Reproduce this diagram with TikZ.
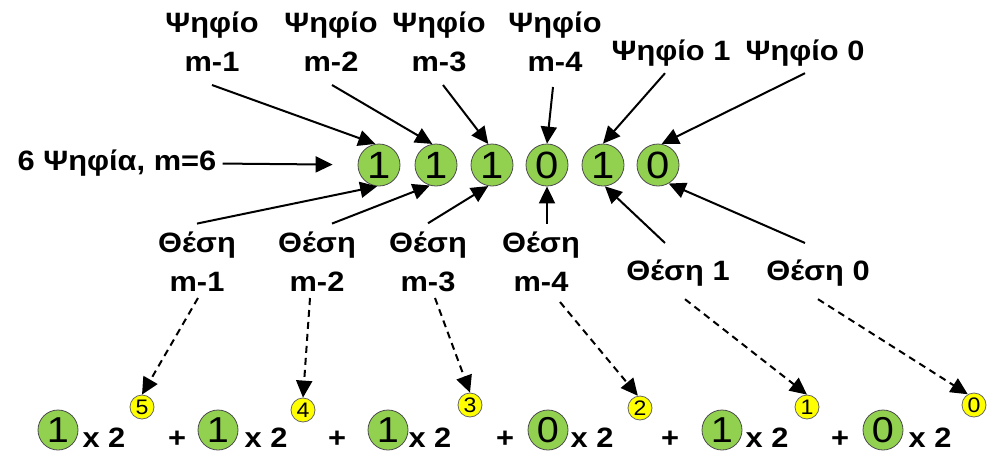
\documentclass[tikz,border=0pt]{standalone}
\usepackage{fontspec}
\setmainfont[FakeStretch=1.1]{Liberation Sans}
\usetikzlibrary{calc,arrows.meta}
\definecolor{bitgreen}{RGB}{146,208,80}
\definecolor{expyellow}{RGB}{255,255,0}

\begin{document}
\begin{tikzpicture}[x=.5pt,y=-.5pt]
\tikzstyle{bit}=[draw=black!70,fill=bitgreen,circle,inner sep=0pt,minimum size=21pt,font=\fontsize{19}{19}\selectfont]
\tikzstyle{coef}=[bit,minimum size=20pt,font=\fontsize{18}{18}\selectfont]
\tikzstyle{expo}=[draw=black!60,fill=expyellow,circle,inner sep=0pt,minimum size=12pt,font=\fontsize{10.5}{10.5}\selectfont]
\tikzstyle{lbl}=[inner sep=0pt,align=center,font=\bfseries\fontsize{14}{19.5}\selectfont]
\tikzstyle{arr}=[-{Triangle[length=8.5pt,width=8pt]},line width=1pt]
\tikzstyle{darr}=[arr,dash pattern=on 3.5pt off 2.5pt]

\useasboundingbox (0,0) rectangle (987,456);

% the six bits
\node[bit] (bit5) at (379,165) {1};
\node[bit] (bit4) at (436,165) {1};
\node[bit] (bit3) at (492,165) {1};
\node[bit] (bit2) at (547,165) {0};
\node[bit] (bit1) at (603,165) {1};
\node[bit] (bit0) at (658,165) {0};

% digit labels above
\node[lbl,anchor=south] (dlabel5) at (212,72) {Ψηφίο\\m-1};
\node[lbl,anchor=south] (dlabel4) at (331,72) {Ψηφίο\\m-2};
\node[lbl,anchor=south] (dlabel3) at (439,72) {Ψηφίο\\m-3};
\node[lbl,anchor=south] (dlabel2) at (555,72) {Ψηφίο\\m-4};
\node[lbl,anchor=base] (dlabel1) at (671,60) {Ψηφίο 1};
\node[lbl,anchor=base] (dlabel0) at (805,60) {Ψηφίο 0};

% number of digits
\node[lbl,anchor=base] (count) at (117,170) {6 Ψηφία, m=6};

% position labels below
\node[lbl,anchor=south] (plabel5) at (197,292) {Θέση\\m-1};
\node[lbl,anchor=south] (plabel4) at (317,292) {Θέση\\m-2};
\node[lbl,anchor=south] (plabel3) at (428,292) {Θέση\\m-3};
\node[lbl,anchor=south] (plabel2) at (541,292) {Θέση\\m-4};
\node[lbl,anchor=base] (plabel1) at (678,280) {Θέση 1};
\node[lbl,anchor=base] (plabel0) at (818,280) {Θέση 0};

% the sum of powers of two
\node[coef] (coef5) at (58,430) {1};
\node[lbl,anchor=base] (base5) at (104,447) {x 2};
\node[expo] (exp5) at (142,407) {5};
\node[lbl,anchor=base] (plus5) at (177,447) {+};
\node[coef] (coef4) at (218,430) {1};
\node[lbl,anchor=base] (base4) at (266,447) {x 2};
\node[expo] (exp4) at (303,410) {4};
\node[lbl,anchor=base] (plus4) at (337,447) {+};
\node[coef] (coef3) at (388,430) {1};
\node[lbl,anchor=base] (base3) at (430,447) {x 2};
\node[expo] (exp3) at (470,405) {3};
\node[lbl,anchor=base] (plus3) at (505,447) {+};
\node[coef] (coef2) at (548,430) {0};
\node[lbl,anchor=base] (base2) at (592,447) {x 2};
\node[expo] (exp2) at (640,408) {2};
\node[lbl,anchor=base] (plus2) at (670,447) {+};
\node[coef] (coef1) at (722,430) {1};
\node[lbl,anchor=base] (base1) at (767,447) {x 2};
\node[expo] (exp1) at (807,407) {1};
\node[lbl,anchor=base] (plus1) at (840,447) {+};
\node[coef] (coef0) at (883,430) {0};
\node[lbl,anchor=base] (base0) at (930,447) {x 2};
\node[expo] (exp0) at (974,405) {0};

% arrows from the digit labels
\draw[arr] ($(dlabel5.south)+(0,13)$) -- (bit5.100);
\draw[arr] ($(dlabel4.south)+(1,13)$) -- (bit4.100);
\draw[arr] ($(dlabel3.south)+(4,13)$) -- (bit3.100);
\draw[arr] ($(dlabel2.south)+(-2,15)$) -- (bit2.north);
\draw[arr] ($(dlabel1.south)+(-6,7)$) -- (bit1.north);
\draw[arr] ($(dlabel0.south)+(0,7)$) -- (bit0.80);
\draw[arr,shorten <=3pt,shorten >=12.5pt] (count) -- (bit5);

% arrows from the position labels
\draw[arr] ($(plabel5.north)+(0,-8)$) -- (bit5.265);
\draw[arr] ($(plabel4.north)+(15,-8)$) -- (bit4.253);
\draw[arr] ($(plabel3.north)+(0,-8)$) -- (bit3.260);
\draw[arr] ($(plabel2.north)+(6,-8)$) -- (bit2.south);
\draw[arr] ($(plabel1.north)+(-13,-16)$) -- (bit1.275);
\draw[arr] ($(plabel0.north)+(-13,-16)$) -- (bit0.300);

% dashed arrows to the exponents
\draw[darr] ($(plabel5.south)+(1,6)$) -- (exp5.north);
\draw[darr] ($(plabel4.south)+(-7,6)$) -- (exp4.north);
\draw[darr] ($(plabel3.south)+(7,6)$) -- (exp3.north);
\draw[darr] ($(plabel2.south)+(19,10)$) -- (exp2.100);
\draw[darr] ($(plabel1.south)+(7,13)$) -- (exp1.north);
\draw[darr] ($(plabel0.south)+(0,13)$) -- (exp0.120);

\end{tikzpicture}
\end{document}
